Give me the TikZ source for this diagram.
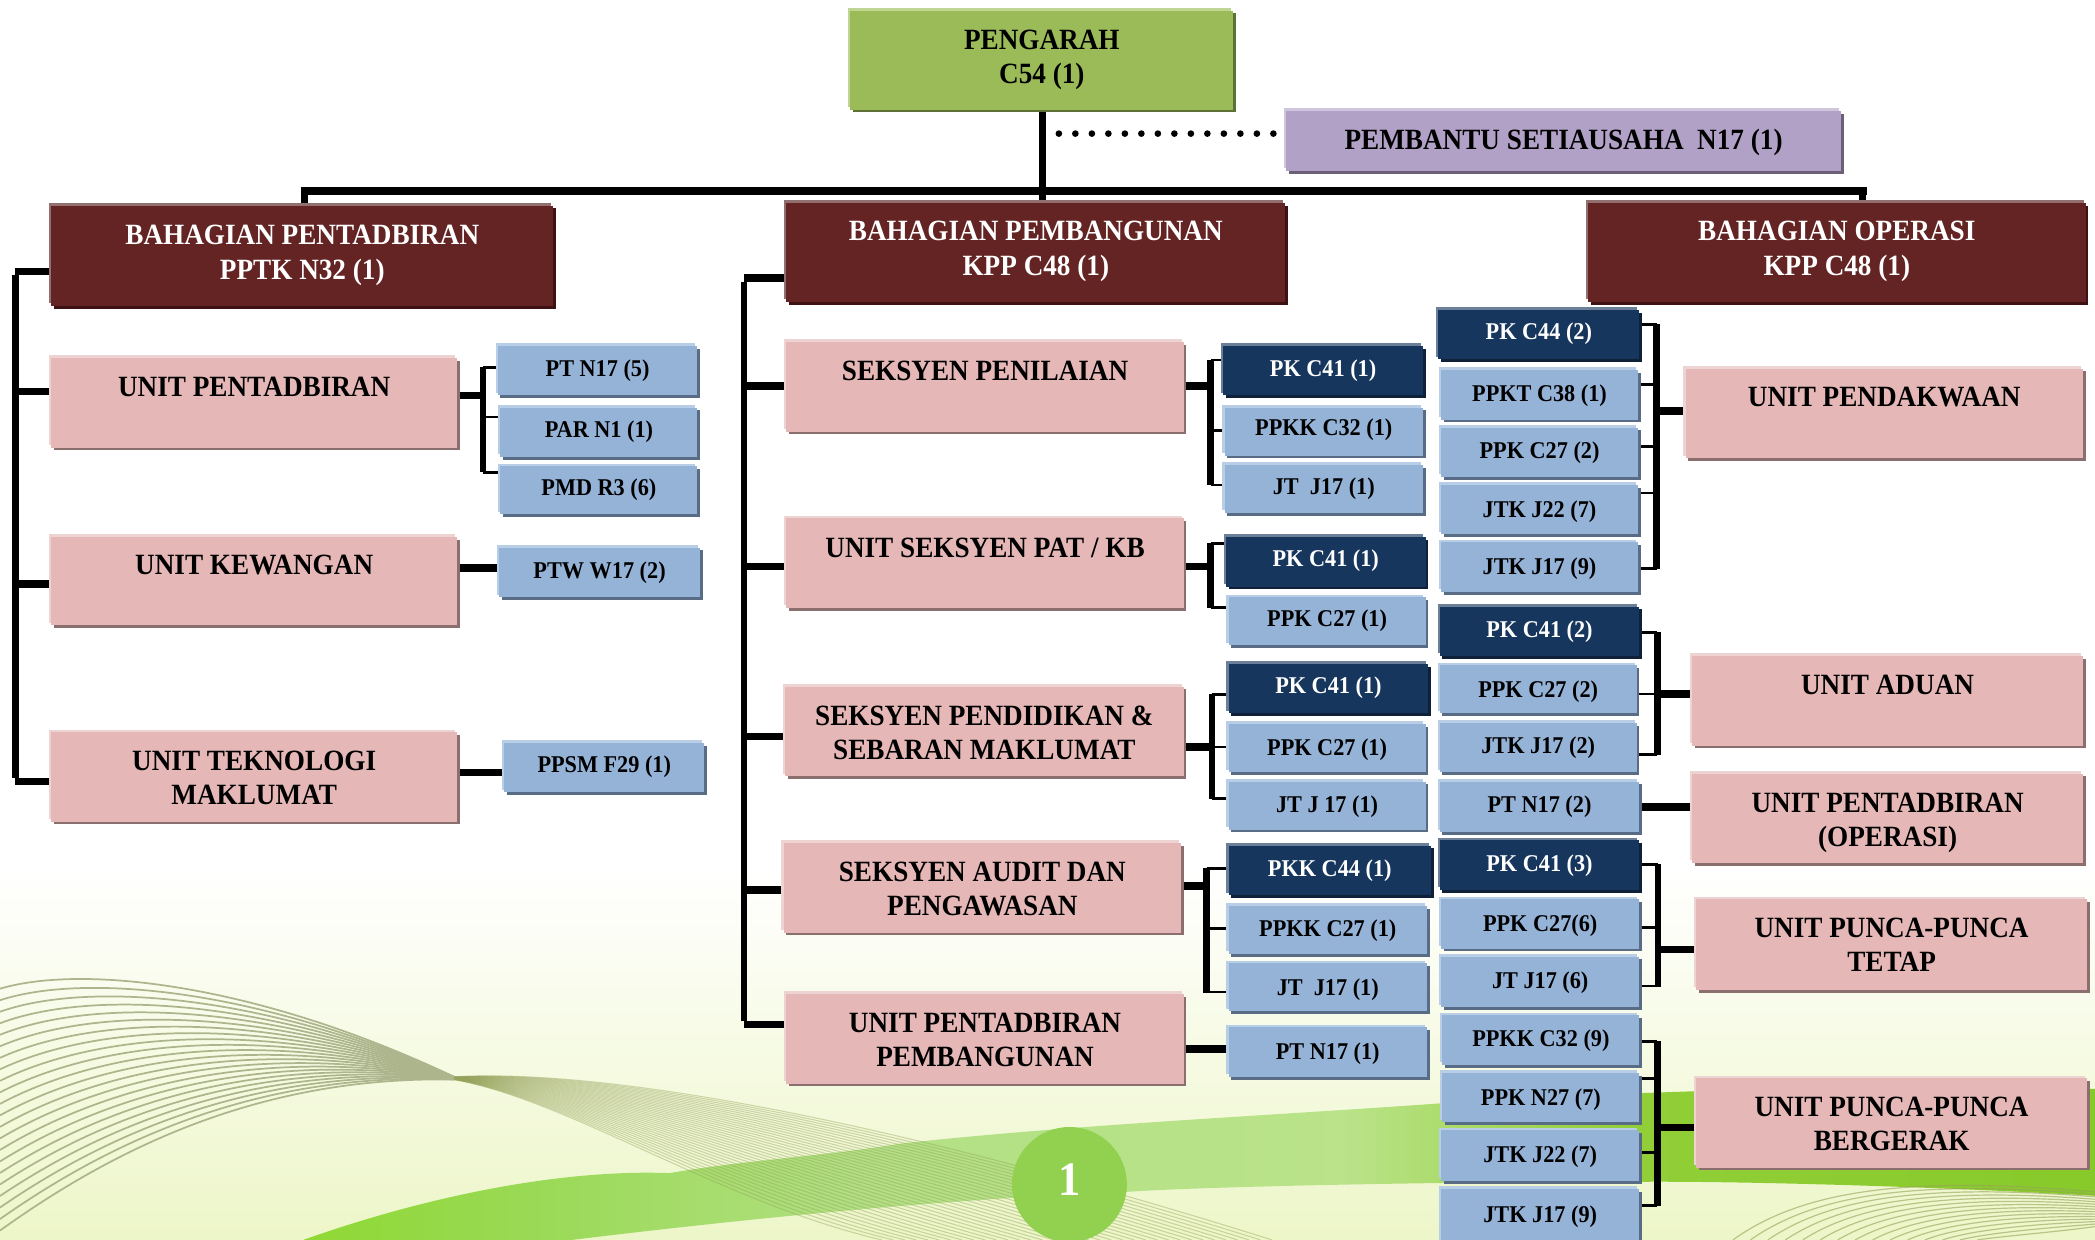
\documentclass[tikz,border=0pt]{standalone}
\usepackage{fontspec}
\setmainfont{Liberation Serif}[FakeStretch=0.925]
\usetikzlibrary{calc,shapes.geometric}
\pgfdeclarelayer{bg}\pgfdeclarelayer{conn}\pgfsetlayers{bg,conn,main}
\definecolor{cMar}{HTML}{632423}\definecolor{cMarL}{HTML}{92706F}\definecolor{cMarD}{HTML}{3E1213}
\definecolor{cPink}{HTML}{E5B8B7}\definecolor{cPinkL}{HTML}{EDD3D2}\definecolor{cPinkD}{HTML}{8B6E6E}
\definecolor{cBlue}{HTML}{95B3D7}\definecolor{cBlueL}{HTML}{B8CDE6}\definecolor{cBlueD}{HTML}{586C86}
\definecolor{cNavy}{HTML}{17365D}\definecolor{cNavyL}{HTML}{6B7F99}\definecolor{cNavyD}{HTML}{0E2139}
\definecolor{cGreen}{HTML}{9BBB59}\definecolor{cGreenL}{HTML}{C0D594}\definecolor{cGreenD}{HTML}{5D7035}
\definecolor{cPurp}{HTML}{B2A1C7}\definecolor{cPurpL}{HTML}{CFC5DC}\definecolor{cPurpD}{HTML}{6B6077}
\definecolor{cCircle}{HTML}{92D050}\definecolor{cPale}{HTML}{EDF6C8}
\definecolor{cWaveA}{HTML}{ADB58C}\definecolor{cWaveB}{HTML}{95A25A}
\pgfdeclarehorizontalshading{bandh}{100bp}{
 rgb(0bp)=(0.56,0.85,0.20);
 rgb(25bp)=(0.56,0.85,0.20);
 rgb(31bp)=(0.60,0.85,0.33);
 rgb(41bp)=(0.70,0.88,0.52);
 rgb(54bp)=(0.73,0.89,0.54);
 rgb(62bp)=(0.57,0.81,0.22);
 rgb(75bp)=(0.53,0.79,0.16);
 rgb(100bp)=(0.53,0.79,0.16)}
\tikzset{
 x=1pt,y=-1pt,
 bevel/.style n args={3}{fill=#1,draw=none,inner sep=0pt,
   preaction={fill=#2,transform canvas={shift={(-1.6pt,2pt)}}},
   preaction={fill=#3,transform canvas={shift={(2pt,-2pt)}}}},
 topbox/.style={bevel={cGreen}{cGreenL}{cGreenD},text=black,font=\fontsize{22}{25.5}\selectfont\bfseries},
 sidebox/.style={bevel={cPurp}{cPurpL}{cPurpD},text=black,font=\fontsize{22}{25.5}\selectfont\bfseries},
 divbox/.style={bevel={cMar}{cMarL}{cMarD},text=white,font=\fontsize{22}{26}\selectfont\bfseries},
 unitbox/.style={bevel={cPink}{cPinkL}{cPinkD},text=black,font=\fontsize{22}{25.5}\selectfont\bfseries},
 staffbox/.style={bevel={cBlue}{cBlueL}{cBlueD},text=black,font=\fontsize{18}{19}\selectfont\bfseries},
 leadbox/.style={bevel={cNavy}{cNavyL}{cNavyD},text=white,font=\fontsize{18}{19}\selectfont\bfseries},
 spine/.style={line width=5pt,black,line cap=butt},
 stem/.style={line width=5.5pt,black},
 rib/.style={line width=2pt,black},
}
% name, x1,y1,x2,y2, style, text centre y, text
\newcommand\bx[8]{%
 \pgfmathsetmacro\bw{#4-#2-2.5}\pgfmathsetmacro\bh{#5-#3-2}%
 \pgfmathsetmacro\cxx{(#2+#4)/2+0.25}\pgfmathsetmacro\cyy{(#3+#5)/2}%
 \pgfmathsetmacro\dyy{\cyy-#7}%
 \node[#6,minimum width=\bw pt,minimum height=\bh pt] (#1) at (\cxx,\cyy)
 {\raisebox{\dimexpr\dyy pt-0.37em\relax}[0pt][0pt]{\begin{tabular}[c]{@{}c@{}}#8\end{tabular}}};}
\newcommand\ribto[3]{\coordinate (rr) at (#2,#3);\draw[rib] (rr) -- (rr -| #1.west);}
\newcommand\ribb[3]{\coordinate (rr) at (#2,#3);\draw[rib] (rr) -- (rr -| #1.east);}
\newcommand\fan[2]{\foreach \i in {0,...,#1}{\pgfmathsetmacro\tt{\i/#1}
 \draw[#2] ($(a0)!\tt!(b0)$) .. controls ($(a1)!\tt!(b1)$) and ($(a2)!\tt!(b2)$) .. ($(a3)!\tt!(b3)$);}}
\begin{document}
\begin{tikzpicture}
\useasboundingbox (0,0) rectangle (1568,928);
\begin{pgfonlayer}{bg}
 \fill[white] (0,0) rectangle (1568,928);
 \shade[top color=white,bottom color=cPale] (0,650) rectangle (1568,928);
 \shade[shading=bandh]
   (227,928) .. controls (320,895) and (420,875) .. (501,878)
   .. controls (560,868) and (620,865) .. (673,856)
   .. controls (800,842) and (950,835) .. (1075,826)
   .. controls (1250,815) and (1400,812) .. (1568,815)
   -- (1568,895) .. controls (1450,888) and (1300,884) .. (1229,884.5)
   .. controls (1100,884) and (900,888) .. (844,892)
   .. controls (700,898) and (560,912) .. (428,928) -- cycle;
 % wave family, left arch
 \coordinate (a0) at (0,740);\coordinate (a1) at (60,722);\coordinate (a2) at (190,735);\coordinate (a3) at (340,806);
 \coordinate (b0) at (0,921);\coordinate (b1) at (85,860);\coordinate (b2) at (195,805);\coordinate (b3) at (340,808);
 \fan{21}{line width=1.3pt,color=cWaveA}
 % wave family, descending
 \coordinate (a0) at (340,806);\coordinate (a1) at (440,800);\coordinate (a2) at (640,830);\coordinate (a3) at (952,928);
 \coordinate (b0) at (340,808);\coordinate (b1) at (430,825);\coordinate (b2) at (540,900);\coordinate (b3) at (660,928);
 \fan{34}{line width=0.8pt,color=cWaveB,opacity=.42}
 % wave family, lower right
 \coordinate (a0) at (1297,928);\coordinate (a1) at (1350,890);\coordinate (a2) at (1430,880);\coordinate (a3) at (1568,892);
 \coordinate (b0) at (1480,928);\coordinate (b1) at (1500,925);\coordinate (b2) at (1540,922);\coordinate (b3) at (1568,918);
 \fan{14}{line width=0.9pt,color=cWaveB,opacity=.6}
\end{pgfonlayer}

\node[circle,fill=cCircle,minimum size=86pt,inner sep=0pt,text=white,font=\fontsize{36}{40}\selectfont\bfseries] (page) at (800.4,886.5) {\raisebox{7pt}{1}};

% top
\bx{dir}{635}{7}{924}{83}{topbox}{41.5}{PENGARAH\\C54 (1)}
\bx{sec}{961}{82}{1379}{129}{sidebox}{104}{PEMBANTU SETIAUSAHA\ \ N17 (1)}
\bx{divA}{37}{153}{415}{230}{divbox}{188}{BAHAGIAN PENTADBIRAN\\PPTK N32 (1)}
\bx{divB}{587}{151}{963}{227}{divbox}{185}{BAHAGIAN PEMBANGUNAN\\KPP C48 (1)}
\bx{divC}{1187}{151}{1562}{227}{divbox}{185}{BAHAGIAN OPERASI\\KPP C48 (1)}
% pink units
\bx{uA}{37}{267}{343}{336}{unitbox}{289}{UNIT PENTADBIRAN}
\bx{uB}{37}{401}{343}{469}{unitbox}{422}{UNIT KEWANGAN}
\bx{uC}{37}{547}{343}{616}{unitbox}{581.5}{UNIT TEKNOLOGI\\MAKLUMAT}
\bx{sA}{587}{255}{887}{324}{unitbox}{277}{SEKSYEN PENILAIAN}
\bx{sB}{587}{387}{887}{456}{unitbox}{409}{UNIT SEKSYEN PAT / KB}
\bx{sC}{586}{513}{887}{582}{unitbox}{547.5}{SEKSYEN PENDIDIKAN \&\\SEBARAN MAKLUMAT}
\bx{sD}{585}{630}{885}{699}{unitbox}{664.5}{SEKSYEN AUDIT DAN\\PENGAWASAN}
\bx{sE}{587}{743}{887}{812}{unitbox}{777.5}{UNIT PENTADBIRAN\\PEMBANGUNAN}
\bx{oA}{1260}{275}{1560}{344}{unitbox}{296}{UNIT PENDAKWAAN}
\bx{oB}{1265}{490}{1560}{559}{unitbox}{512}{UNIT ADUAN}
\bx{oC}{1265}{578}{1560}{647}{unitbox}{613}{UNIT PENTADBIRAN\\(OPERASI)}
\bx{oD}{1268}{672}{1563}{742}{unitbox}{706.5}{UNIT PUNCA-PUNCA\\TETAP}
\bx{oE}{1268}{806}{1563}{875}{unitbox}{840.5}{UNIT PUNCA-PUNCA\\BERGERAK}
% left staff
\bx{a1}{371}{258}{523}{297}{staffbox}{276}{PT N17 (5)}
\bx{a2}{373}{304}{523}{343}{staffbox}{321}{PAR N1 (1)}
\bx{a3}{373}{348}{523}{386}{staffbox}{365}{PMD R3 (6)}
\bx{b1}{372}{409}{525}{448}{staffbox}{427}{PTW W17 (2)}
\bx{c1}{376}{555}{528}{594}{staffbox}{572}{PPSM F29 (1)}
% middle staff
\bx{m1}{914}{258}{1066}{297}{leadbox}{276}{PK C41 (1)}
\bx{m2}{915}{304}{1066}{342}{staffbox}{320}{PPKK C32 (1)}
\bx{m3}{915}{347}{1066}{385}{staffbox}{364}{JT\ \ J17 (1)}
\bx{m4}{916}{401}{1068}{440}{leadbox}{418}{PK C41 (1)}
\bx{m5}{918}{446}{1068}{484}{staffbox}{463}{PPK C27 (1)}
\bx{m6}{918}{496}{1070}{535}{leadbox}{513}{PK C41 (1)}
\bx{m7}{918}{541}{1068}{579}{staffbox}{559}{PPK C27 (1)}
\bx{m8}{918}{584}{1068}{622}{staffbox}{602}{JT J 17 (1)}
\bx{m9}{918}{632}{1072}{671}{leadbox}{650}{PKK C44 (1)}
\bx{m10}{918}{677}{1069}{715}{staffbox}{695}{PPKK C27 (1)}
\bx{m11}{918}{720}{1069}{758}{staffbox}{739}{JT\ \ J17 (1)}
\bx{m12}{918}{768}{1069}{807}{staffbox}{787}{PT N17 (1)}
% right staff
\bx{r1}{1075}{231}{1228}{270}{leadbox}{248}{PK C44 (2)}
\bx{r2}{1077}{276}{1227}{315}{staffbox}{294}{PPKT C38 (1)}
\bx{r3}{1077}{319}{1227}{358}{staffbox}{337}{PPK C27 (2)}
\bx{r4}{1077}{362}{1227}{401}{staffbox}{381}{JTK J22 (7)}
\bx{r5}{1077}{405}{1227}{444}{staffbox}{424}{JTK J17 (9)}
\bx{r6}{1076}{453}{1228}{492}{leadbox}{471}{PK C41 (2)}
\bx{r7}{1076}{497}{1226}{535}{staffbox}{516}{PPK C27 (2)}
\bx{r8}{1076}{540}{1226}{579}{staffbox}{558}{JTK J17 (2)}
\bx{r9}{1076}{584}{1228}{624}{staffbox}{602}{PT N17 (2)}
\bx{r10}{1076}{628}{1228}{667}{leadbox}{646}{PK C41 (3)}
\bx{r11}{1077}{672}{1228}{711}{staffbox}{691}{PPK C27(6)}
\bx{r12}{1077}{715}{1228}{755}{staffbox}{734}{JT J17 (6)}
\bx{r13}{1078}{759}{1228}{798}{staffbox}{777}{PPKK C32 (9)}
\bx{r14}{1078}{802}{1228}{841}{staffbox}{821}{PPK N27 (7)}
\bx{r15}{1077}{845}{1228}{885}{staffbox}{864}{JTK J22 (7)}
\bx{r16}{1077}{889}{1228}{932}{staffbox}{909}{JTK J17 (9)}

\begin{pgfonlayer}{conn}
 % director and main bus
 \coordinate (busL) at (228,143);\coordinate (busM) at (780,143);\coordinate (busR) at (1394,143);
 \draw[line width=6pt] ([xshift=-3pt]busL) -- ([xshift=3pt]busR);
 \draw[spine] (dir.south -| busM) -- (divB.north -| busM);
 \draw[spine] ([yshift=3pt]busL) -- (divA.north -| busL);
 \draw[spine] ([yshift=3pt]busR) -- (divC.north -| busR);
 \coordinate (dotS) at (792.5,100);
 \draw[line width=5pt,line cap=round,dash pattern=on 0pt off 12.35pt] (dotS) -- (dotS -| sec.west);
 % left division
 \coordinate (lT) at (11.5,203);\coordinate (lB) at (11.5,585);
 \draw[spine] ([yshift=-2.75pt]lT) -- ([yshift=2.75pt]lB);
 \draw[stem] (lT) -- (lT -| divA.west);
 \draw[stem] (lB) -- (lB -| uC.west);
 \coordinate (j) at (11.5,293);\draw[stem] (j) -- (j -| uA.west);
 \coordinate (j) at (11.5,437);\draw[stem] (j) -- (j -| uB.west);
 % unit A staff
 \coordinate (k1) at (361.5,275);\coordinate (k2) at (361.5,353.5);
 \draw[spine] (k1) -- (k2);
 \coordinate (j) at (343,296);\draw[stem] (j) -- (j -| k1);
 \ribto{a1}{361.5}{275}\ribto{a2}{361.5}{312}\ribto{a3}{361.5}{353.5}
 \coordinate (j) at (343,425);\draw[stem] (j) -- (j -| b1.west);
 \coordinate (j) at (343,578);\draw[stem] (j) -- (j -| c1.west);
 % middle division
 \coordinate (mT) at (557,208);\coordinate (mB) at (557,767);
 \draw[spine,line width=4.5pt] ([yshift=-2.75pt]mT) -- ([yshift=2.75pt]mB);
 \draw[stem] (mT) -- (mT -| divB.west);
 \draw[stem] (mB) -- (mB -| sE.west);
 \coordinate (j) at (557,289);\draw[stem] (j) -- (j -| sA.west);
 \coordinate (j) at (557,424);\draw[stem] (j) -- (j -| sB.west);
 \coordinate (j) at (557,551);\draw[stem] (j) -- (j -| sC.west);
 \coordinate (j) at (557,666);\draw[stem] (j) -- (j -| sD.west);
 % seksyen penilaian
 \coordinate (k1) at (906,269.5);\coordinate (k2) at (906,363);\draw[spine] (k1) -- (k2);
 \coordinate (j) at (887,289);\draw[stem] (j) -- (j -| k1);
 \ribto{m1}{906}{269.5}\ribto{m2}{906}{322}\ribto{m3}{906}{363}
 % PAT
 \coordinate (k1) at (906,406.5);\coordinate (k2) at (906,455);\draw[spine] (k1) -- (k2);
 \coordinate (j) at (887,424);\draw[stem] (j) -- (j -| k1);
 \ribto{m4}{906}{407}\ribto{m5}{906}{454.5}
 % pendidikan
 \coordinate (k1) at (907,519.5);\coordinate (k2) at (907,598);\draw[spine] (k1) -- (k2);
 \coordinate (j) at (887,559);\draw[stem] (j) -- (j -| k1);
 \ribto{m6}{907}{520}\ribto{m7}{907}{559}\ribto{m8}{907}{597.5}
 % audit
 \coordinate (k1) at (903,649.5);\coordinate (k2) at (903,743);\draw[spine] (k1) -- (k2);
 \coordinate (j) at (885,663);\draw[stem] (j) -- (j -| k1);
 \ribto{m9}{903}{650}\ribto{m10}{903}{695}\ribto{m11}{903}{742.5}
 \coordinate (j) at (887,785);\draw[stem] (j) -- (j -| m12.west);
 % right column
 \coordinate (k1) at (1240,242.5);\coordinate (k2) at (1240,426);\draw[spine] (k1) -- (k2);
 \coordinate (j) at (1240,307.5);\draw[stem] (j) -- (j -| oA.west);
 \ribb{r1}{1240}{243}\ribb{r2}{1240}{288}\ribb{r3}{1240}{334}\ribb{r4}{1240}{369}\ribb{r5}{1240}{425.5}
 \coordinate (k1) at (1240.5,473);\coordinate (k2) at (1240.5,565);\draw[spine] (k1) -- (k2);
 \coordinate (j) at (1240.5,519.5);\draw[stem] (j) -- (j -| oB.west);
 \ribb{r6}{1240.5}{473.5}\ribb{r7}{1240.5}{519.5}\ribb{r8}{1240.5}{564.5}
 \coordinate (j) at (1228,604);\draw[stem] (j) -- (j -| oC.west);
 \coordinate (k1) at (1241,646.5);\coordinate (k2) at (1241,738.5);\draw[spine] (k1) -- (k2);
 \coordinate (j) at (1241,710.5);\draw[stem] (j) -- (j -| oD.west);
 \ribb{r10}{1241}{647}\ribb{r11}{1241}{694}\ribb{r12}{1241}{738}
 \coordinate (k1) at (1240.5,779);\coordinate (k2) at (1240.5,902.5);\draw[spine] (k1) -- (k2);
 \coordinate (j) at (1240.5,844);\draw[stem] (j) -- (j -| oE.west);
 \ribb{r13}{1240.5}{779.5}\ribb{r14}{1240.5}{807}\ribb{r15}{1240.5}{862.5}\ribb{r16}{1240.5}{902}
\end{pgfonlayer}
\end{tikzpicture}
\end{document}
